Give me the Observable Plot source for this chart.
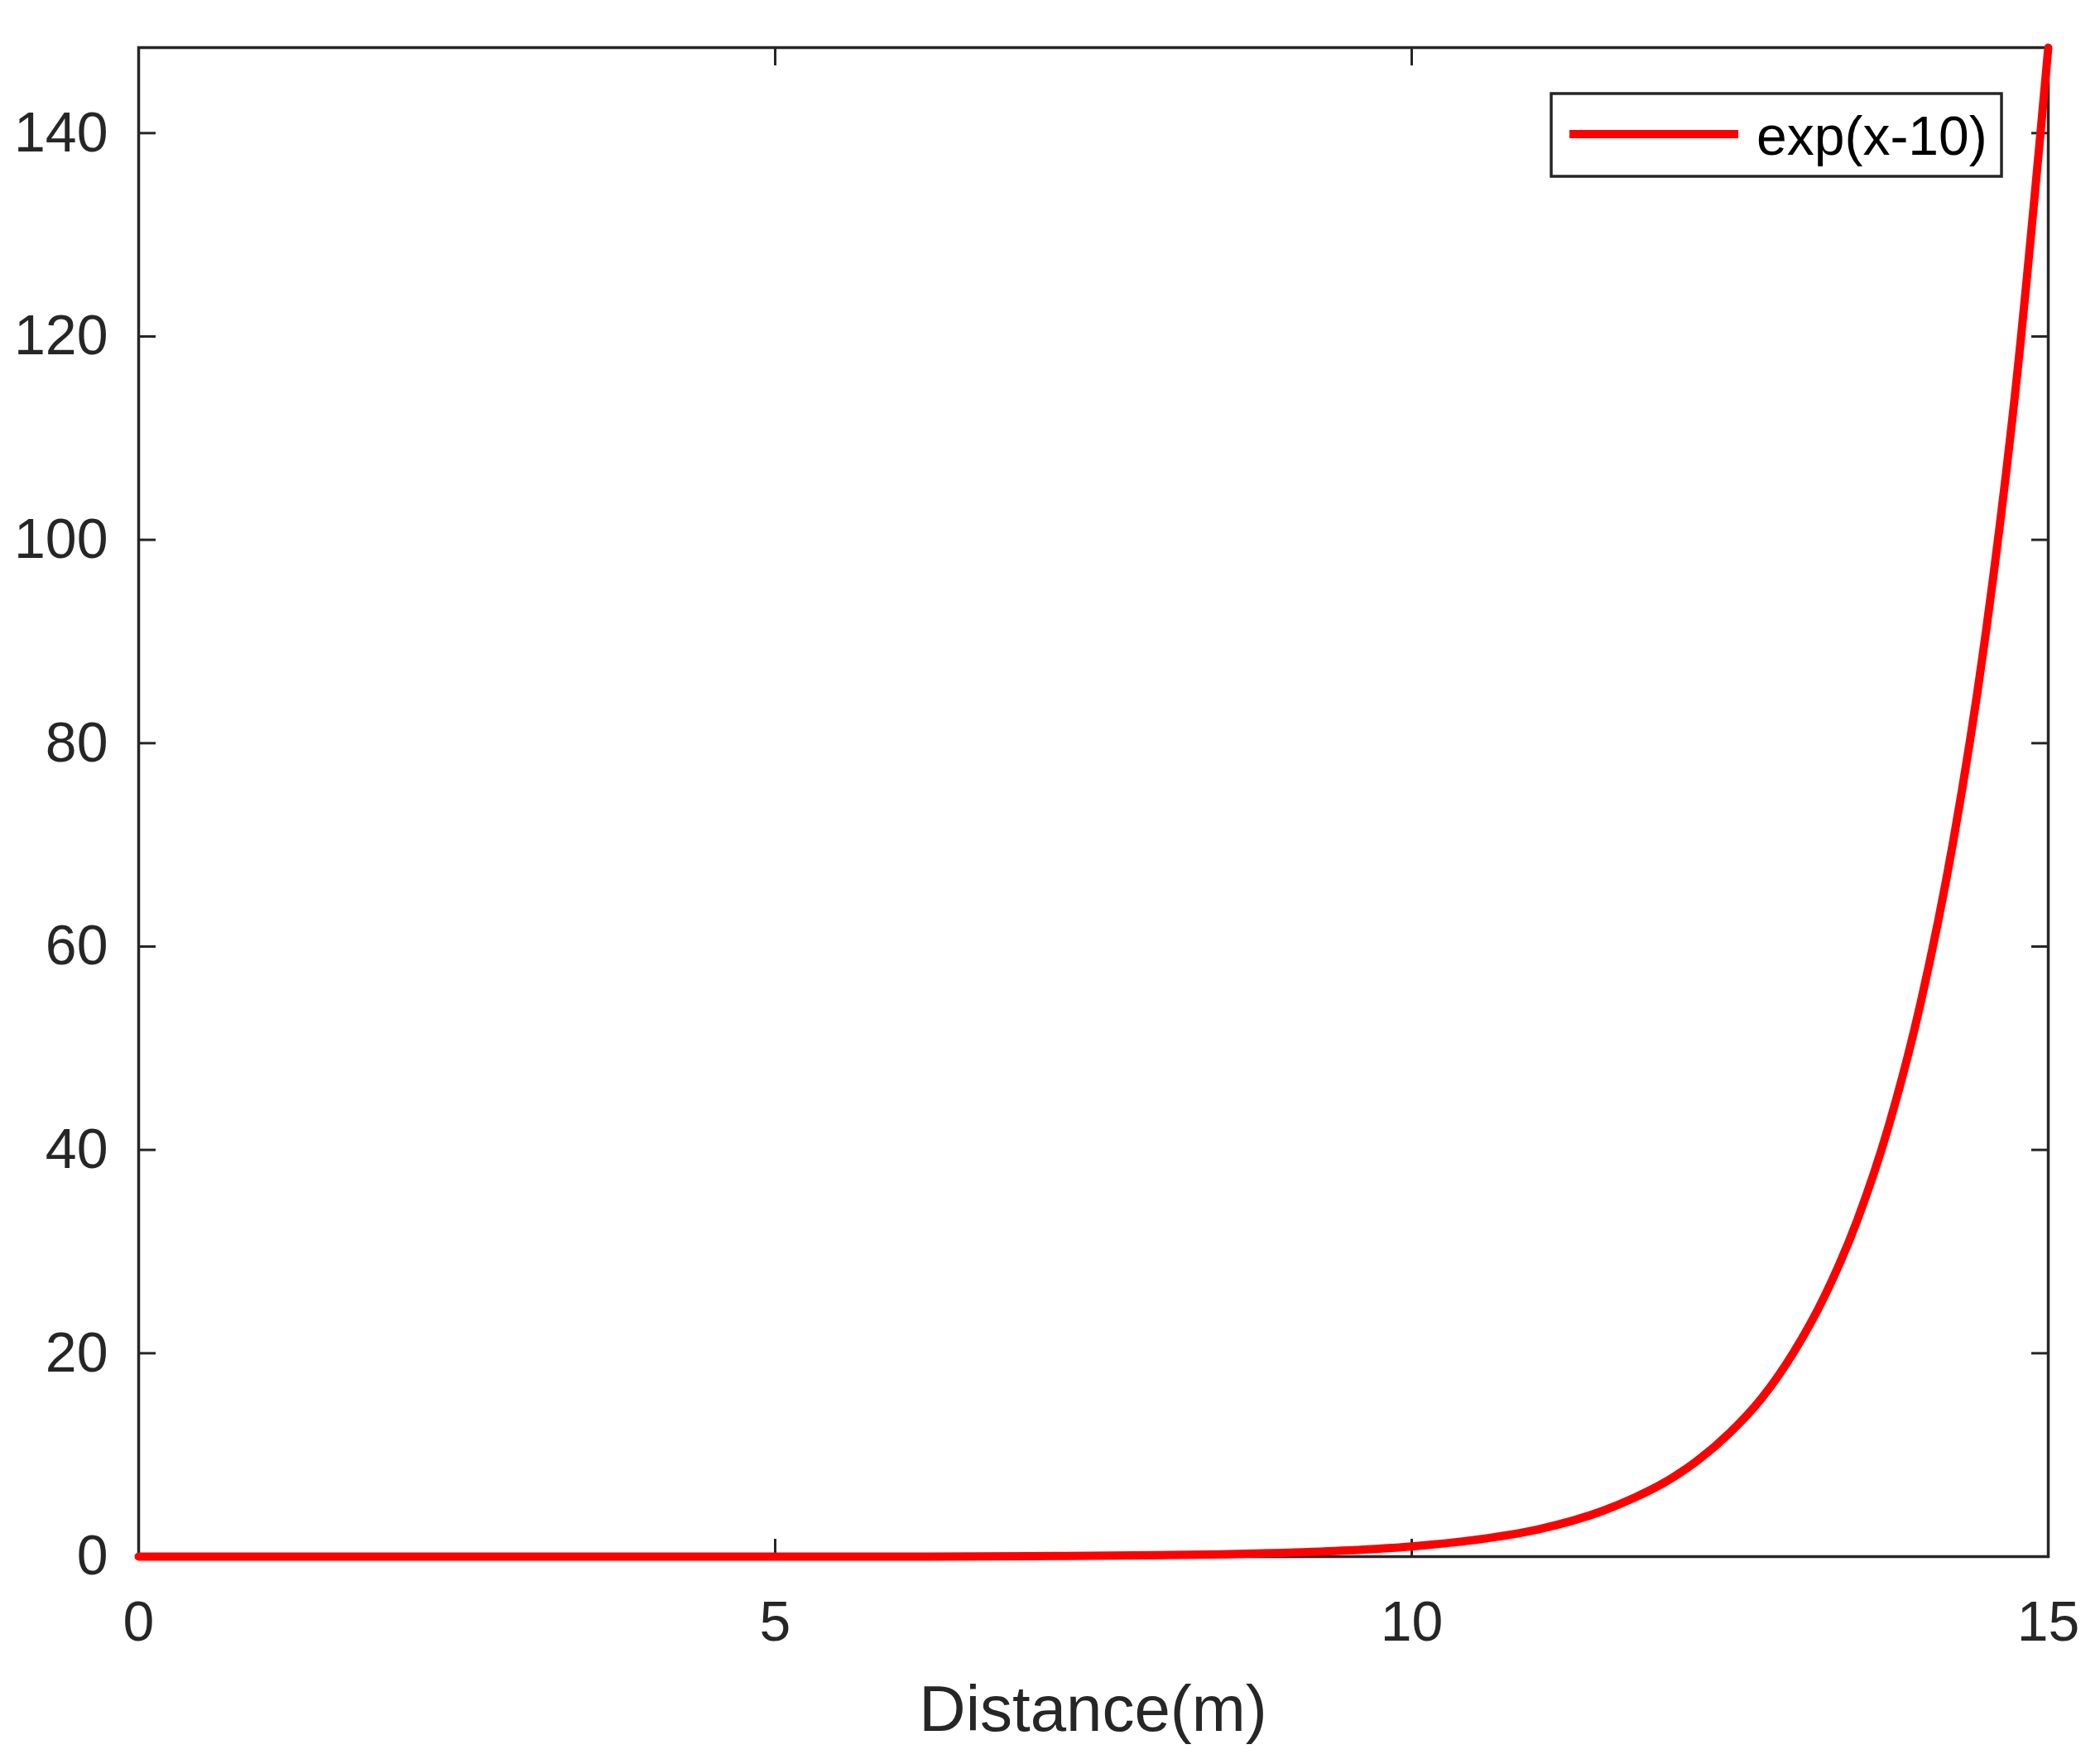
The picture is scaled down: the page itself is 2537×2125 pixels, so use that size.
<!DOCTYPE html>
<html>
<head>
<meta charset="utf-8">
<script src="https://cdn.jsdelivr.net/npm/d3@7"></script>
<script src="https://cdn.jsdelivr.net/npm/@observablehq/plot@0.6"></script>
<style>
  html, body { margin: 0; padding: 0; background: #fff; }
  #chart { position: relative; width: 2537px; height: 2125px; }
</style>
</head>
<body>
<div id="chart"></div>
<script>
// Values
const distance = [0, 1, 2, 3, 4, 5, 6, 7, 8, 8.5, 9, 9.5, 10, 10.5, 11, 11.5, 11.75, 12, 12.25, 12.5, 12.75, 13, 13.25, 13.5, 13.75, 14, 14.25, 14.5, 14.75, 15];
const value    = [0, 0, 0, 0, 0, 0, 0, 0.05, 0.14, 0.22, 0.37, 0.61, 1.0, 1.65, 2.7, 4.5, 5.8, 7.4, 9.5, 12.2, 15.6, 20.1, 25.8, 33.1, 42.5, 54.6, 70.1, 90.0, 115.6, 148.4];
const xTicks = [0, 5, 10, 15];
const yTicks = [0, 20, 40, 60, 80, 100, 120, 140];
const seriesName = "exp(x-10)";
const xLabel = "Distance(m)";

const data = distance.map((d, i) => ({x: d, y: value[i]}));

const ink = "#262626";
const font = "'Liberation Sans', Arial, Helvetica, sans-serif";
const tickLen = 21;
const fmt = d => String(d);

const svg = Plot.plot({
  width: 2537,
  height: 2125,
  marginLeft: 167,
  marginRight: 63,
  marginTop: 57,
  marginBottom: 245,
  style: {fontFamily: font, background: "#fff", color: ink},
  x: {domain: [0, 15], label: null},
  y: {domain: [0, 148.41], label: null},
  marks: [
    Plot.frame({stroke: ink, strokeWidth: 3.5}),
    // inward ticks on all four sides
    Plot.axisY(yTicks, {anchor: "left", text: null, label: null, tickSize: tickLen, dx: tickLen, stroke: ink, strokeWidth: 3}),
    Plot.axisY(yTicks, {anchor: "right", text: null, label: null, tickSize: tickLen, dx: -tickLen, stroke: ink, strokeWidth: 3}),
    Plot.axisX(xTicks, {anchor: "bottom", text: null, label: null, tickSize: tickLen, dy: -tickLen, stroke: ink, strokeWidth: 3}),
    Plot.axisX(xTicks, {anchor: "top", text: null, label: null, tickSize: tickLen, dy: tickLen, stroke: ink, strokeWidth: 3}),
    // tick labels
    Plot.axisY(yTicks, {anchor: "left", tickSize: 0, tickPadding: 37, fontSize: 68, fill: ink, label: null, tickFormat: fmt}),
    Plot.axisX(xTicks, {anchor: "bottom", tickSize: 0, tickPadding: 53, fontSize: 68, fill: ink, label: null, tickFormat: fmt}),
    Plot.line(data, {x: "x", y: "y", stroke: "#ff0000", strokeWidth: 10, curve: "monotone-x"})
  ]
});

// x-axis title
const s = d3.select(svg);
s.append("text")
  .attr("x", (167 + 2474) / 2)
  .attr("y", 2091)
  .attr("text-anchor", "middle")
  .attr("font-family", font)
  .attr("font-size", 78)
  .attr("fill", ink)
  .text(xLabel);

// legend box
const lg = s.append("g");
lg.append("rect")
  .attr("x", 1874).attr("y", 113)
  .attr("width", 2418 - 1874).attr("height", 100)
  .attr("fill", "#fff").attr("stroke", ink).attr("stroke-width", 3.5);
lg.append("line")
  .attr("x1", 1896).attr("x2", 2100)
  .attr("y1", 162).attr("y2", 162)
  .attr("stroke", "#ff0000").attr("stroke-width", 10);
lg.append("text")
  .attr("x", 2122).attr("y", 187)
  .attr("text-anchor", "start")
  .attr("font-family", font)
  .attr("font-size", 66)
  .attr("fill", "#000")
  .text(seriesName);

document.getElementById("chart").appendChild(svg);
</script>
</body>
</html>
